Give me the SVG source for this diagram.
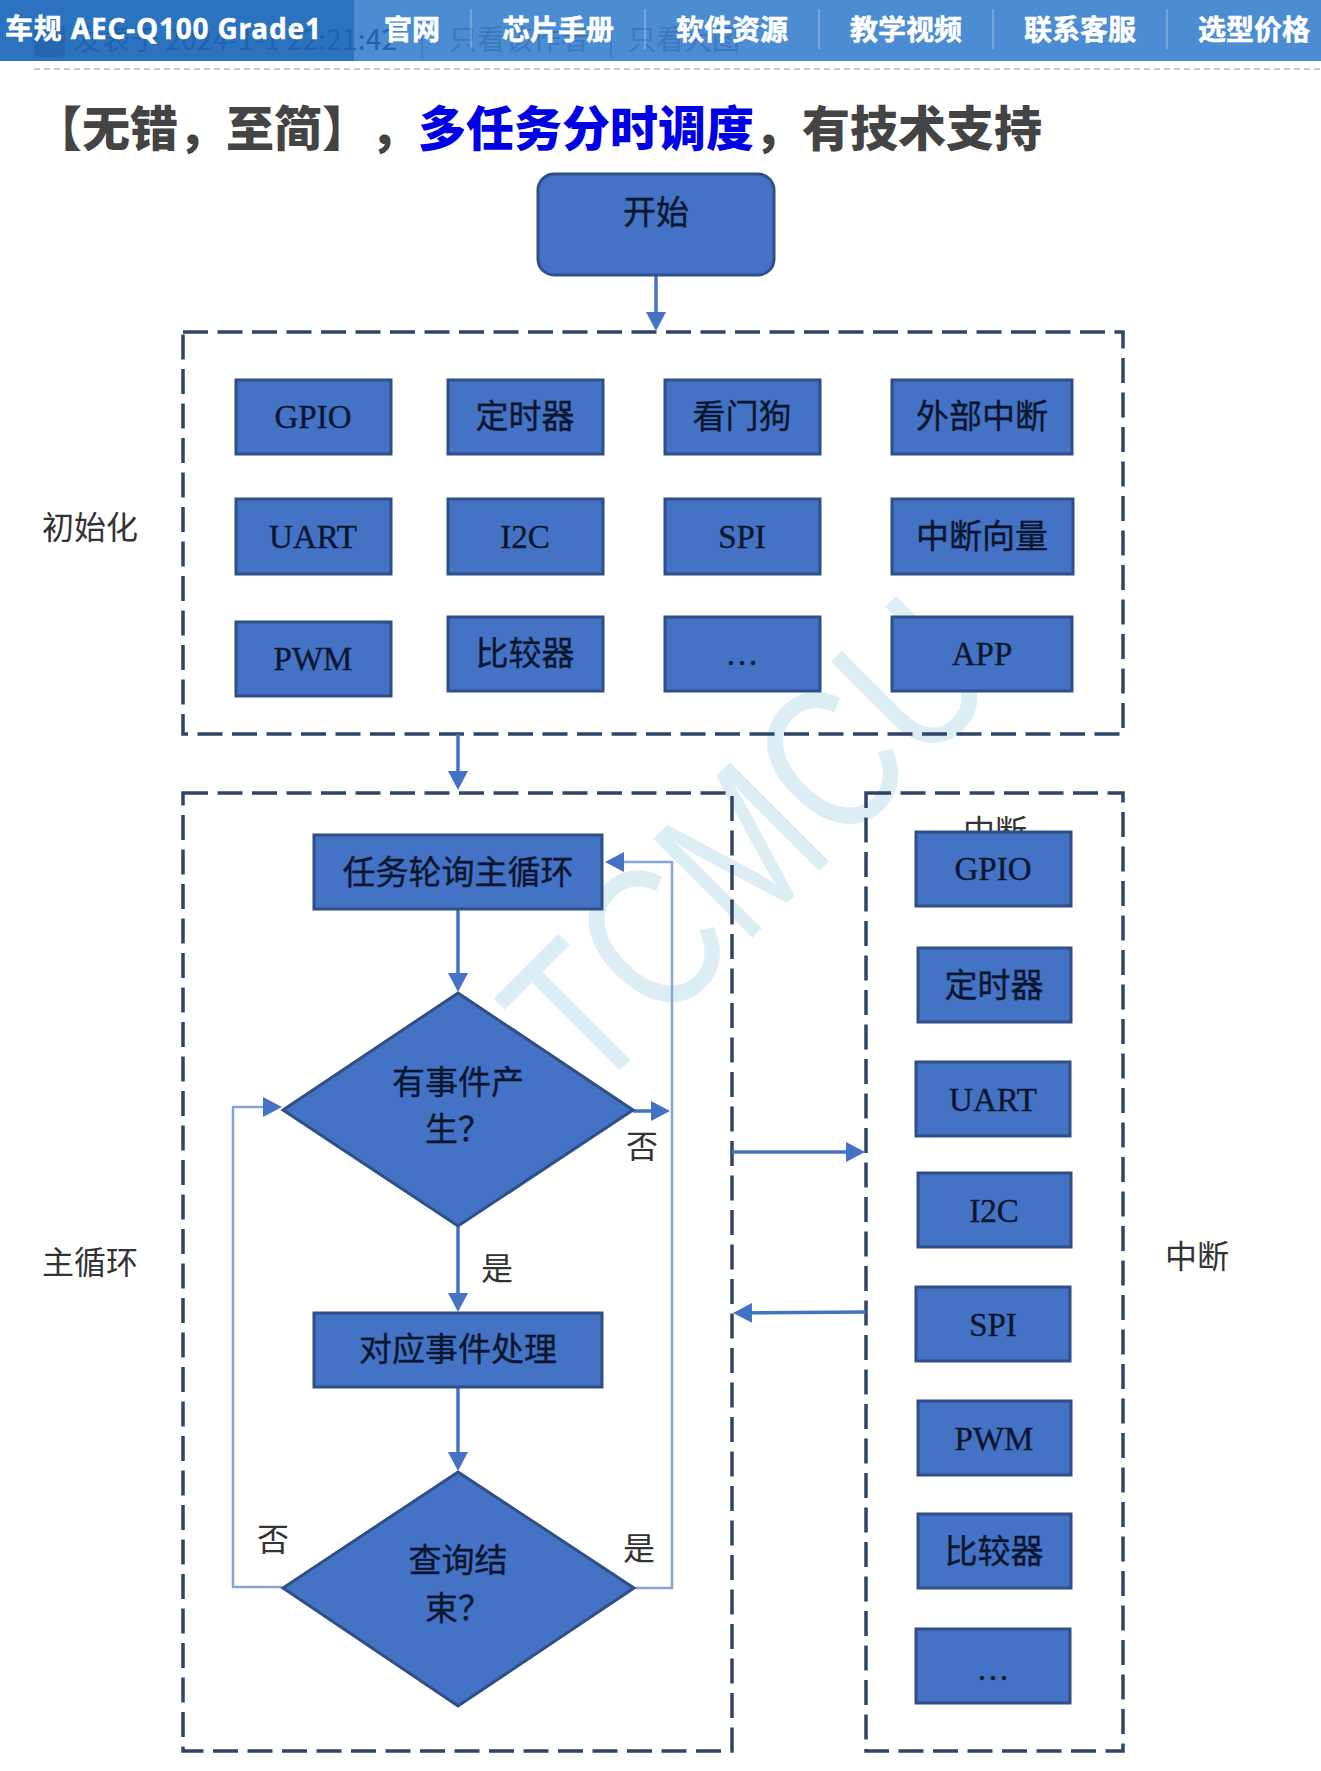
<svg xmlns="http://www.w3.org/2000/svg" width="1321" height="1771" viewBox="0 0 1321 1771">
<style>
text{font-family:"Liberation Serif","Noto Sans CJK SC",serif}
.n rect,.n polygon{fill:#4472c4;stroke:#2f4f86;stroke-width:3}
.n text{font-size:33px;fill:#0a1630;stroke:#0a1630;stroke-width:.35;text-anchor:middle}
.zone{fill:none;stroke:#2f4468;stroke-width:3.5;stroke-dasharray:25 9.5}
.lab{font-size:32px;fill:#333;text-anchor:middle}
.a{fill:none;stroke:#4472c4;stroke-width:3.5;marker-end:url(#ah)}
.l{fill:none;stroke:#86a3da;stroke-width:2.5;marker-end:url(#ah)}
.nav{font-family:"Noto Sans CJK SC",sans-serif;font-size:28px;font-weight:700;fill:#fff;stroke:#fff;stroke-width:.5;text-anchor:middle}
.faint{font-family:"Noto Sans CJK SC",sans-serif;font-size:28px}
.sep{stroke:#fff;stroke-opacity:.3;stroke-width:1.5}
</style>
<defs><marker id="ah" markerUnits="userSpaceOnUse" markerWidth="22" markerHeight="22" refX="15" refY="10" orient="auto"><path d="M0 0L19 10L0 20Z" fill="#4472c4"/></marker></defs>
<rect width="1321" height="1771" fill="#fff"/>
<g id="header">
<rect width="1321" height="61" fill="#4c8cd3"/>
<rect width="354" height="61" fill="#2b73bf"/>
<rect x="34" y="25" width="31" height="32" rx="5" fill="#2666b0"/>
<text class="faint" x="74" y="50" fill="#1f62ae" textLength="323">发表于 2024-1-1 22:21:42</text>
<text class="faint" x="449" y="50" fill="#3c78bc">只看该作者</text>
<text class="faint" x="628" y="50" fill="#3c78bc">只看大图</text>
<line x1="422" y1="30" x2="422" y2="58" stroke="#3c78bc" stroke-width="1.5"/>
<line x1="611" y1="30" x2="611" y2="58" stroke="#3c78bc" stroke-width="1.5"/>
<line class="sep" x1="471" y1="9" x2="471" y2="49"/><line class="sep" x1="645" y1="9" x2="645" y2="49"/><line class="sep" x1="819" y1="9" x2="819" y2="49"/><line class="sep" x1="993" y1="9" x2="993" y2="49"/><line class="sep" x1="1167" y1="9" x2="1167" y2="49"/>
<text x="5" y="39" style="font-family:'Noto Sans','Noto Sans CJK SC',sans-serif;font-size:28px;font-weight:700;fill:#fff;stroke:#fff;stroke-width:.4" textLength="316">车规 AEC-Q100 Grade1</text>
<text class="nav" x="412" y="40">官网</text><text class="nav" x="558" y="40">芯片手册</text><text class="nav" x="732" y="40">软件资源</text><text class="nav" x="906" y="40">教学视频</text><text class="nav" x="1080" y="40">联系客服</text><text class="nav" x="1254" y="40">选型价格</text>
<line x1="34" y1="69" x2="1321" y2="69" stroke="#c8c8c8" stroke-width="2" stroke-dasharray="6 4"/>
</g>
<text id="title" x="34" y="146" style="font-family:'Noto Sans CJK SC',sans-serif;font-size:48px;font-weight:900" fill="#444">【无错，至简】<tspan x="370">，</tspan><tspan x="418" fill="#0000e6">多任务分时调度</tspan><tspan x="754">，</tspan><tspan x="802">有技术支持</tspan></text>
<text id="watermark" x="590" y="1100" transform="rotate(-45 590 1100)" style="font-family:'Liberation Sans',sans-serif;font-size:203px" fill="#dcedf4" textLength="585" lengthAdjust="spacingAndGlyphs">TCMCU</text>
<g id="zones">
<rect class="zone" x="183" y="332" width="940" height="402"/>
<rect class="zone" x="183" y="793" width="549" height="958"/>
<rect class="zone" x="866" y="793" width="257" height="958"/>
</g>
<g id="labels">
<text class="lab" x="90" y="539">初始化</text>
<text class="lab" x="90" y="1274">主循环</text>
<text class="lab" x="1197" y="1268">中断</text>
<text class="lab" x="995" y="843">中断</text>
<text class="lab" x="642" y="1158">否</text>
<text class="lab" x="497" y="1280">是</text>
<text class="lab" x="273" y="1551">否</text>
<text class="lab" x="639" y="1560">是</text>
</g>
<g id="connectors">
<path class="a" d="M656 275V327"/>
<path class="a" d="M458 734V786"/>
<path class="a" d="M458 910V988"/>
<path class="a" d="M458 1227V1308"/>
<path class="a" d="M458 1388V1467"/>
<path class="a" d="M633 1111H666"/>
<path class="l" d="M635 1588H672V862H609"/>
<path class="l" d="M282 1587H233V1107H278"/>
<path class="a" d="M732 1152H861"/>
<path class="a" d="M866 1312L737 1313"/>
</g>
<g id="start" class="n"><rect x="538" y="174" width="236" height="101" rx="16"/><text x="656" y="224">开始</text></g>
<g id="n-gpio" class="n"><rect x="236" y="380" width="155" height="74"/><text x="313" y="428">GPIO</text></g>
<g id="n-timer" class="n"><rect x="448" y="380" width="155" height="74"/><text x="525" y="428">定时器</text></g>
<g id="n-wdt" class="n"><rect x="665" y="380" width="155" height="74"/><text x="742" y="428">看门狗</text></g>
<g id="n-ext" class="n"><rect x="892" y="380" width="180" height="74"/><text x="982" y="428">外部中断</text></g>
<g id="n-uart" class="n"><rect x="236" y="499" width="155" height="75"/><text x="313" y="548">UART</text></g>
<g id="n-i2c" class="n"><rect x="448" y="499" width="155" height="75"/><text x="525" y="548">I2C</text></g>
<g id="n-spi" class="n"><rect x="665" y="499" width="155" height="75"/><text x="742" y="548">SPI</text></g>
<g id="n-vec" class="n"><rect x="892" y="499" width="181" height="75"/><text x="982" y="548">中断向量</text></g>
<g id="n-pwm" class="n"><rect x="236" y="622" width="155" height="74"/><text x="313" y="670">PWM</text></g>
<g id="n-cmp" class="n"><rect x="448" y="617" width="155" height="74"/><text x="525" y="665">比较器</text></g>
<g id="n-more" class="n"><rect x="665" y="617" width="155" height="74"/><text x="742" y="665">…</text></g>
<g id="n-app" class="n"><rect x="892" y="617" width="180" height="74"/><text x="982" y="665">APP</text></g>
<g id="task" class="n"><rect x="314" y="835" width="288" height="74"/><text x="458" y="884">任务轮询主循环</text></g>
<g id="d1" class="n"><polygon points="458,993 633,1110 458,1226 283,1110"/><text x="458" y="1094">有事件产</text><text x="425" y="1141" style="text-anchor:start">生？</text></g>
<g id="handle" class="n"><rect x="314" y="1313" width="288" height="74"/><text x="458" y="1361">对应事件处理</text></g>
<g id="d2" class="n"><polygon points="458,1472 634,1588 458,1706 283,1588"/><text x="458" y="1572">查询结</text><text x="425" y="1620" style="text-anchor:start">束？</text></g>
<g id="i-gpio" class="n"><rect x="916" y="832" width="155" height="74"/><text x="993" y="880">GPIO</text></g>
<g id="i-timer" class="n"><rect x="918" y="948" width="153" height="74"/><text x="994" y="997">定时器</text></g>
<g id="i-uart" class="n"><rect x="916" y="1062" width="154" height="74"/><text x="993" y="1111">UART</text></g>
<g id="i-i2c" class="n"><rect x="918" y="1173" width="153" height="74"/><text x="994" y="1222">I2C</text></g>
<g id="i-spi" class="n"><rect x="916" y="1287" width="154" height="74"/><text x="993" y="1336">SPI</text></g>
<g id="i-pwm" class="n"><rect x="918" y="1401" width="153" height="74"/><text x="994" y="1450">PWM</text></g>
<g id="i-cmp" class="n"><rect x="918" y="1514" width="153" height="74"/><text x="994" y="1563">比较器</text></g>
<g id="i-more" class="n"><rect x="916" y="1629" width="154" height="74"/><text x="993" y="1680">…</text></g>
</svg>
